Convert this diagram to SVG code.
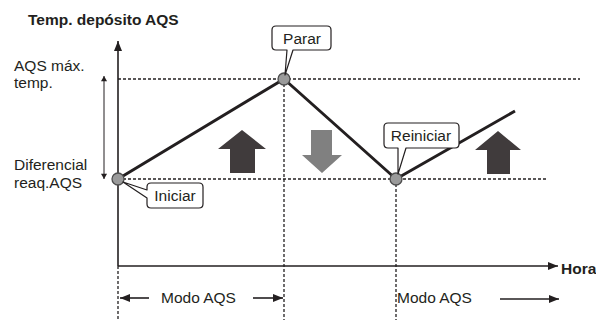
<svg xmlns="http://www.w3.org/2000/svg" width="596" height="320" viewBox="0 0 596 320">
<style>
text{font-family:"Liberation Sans",Arial,sans-serif;font-size:15.5px;fill:#231f20}
.b{font-weight:bold}
.dot{stroke:#231f20;stroke-width:1.3;stroke-dasharray:3 2;fill:none}
.ax{stroke:#231f20;stroke-width:1.6;fill:none}
.thin{stroke:#231f20;stroke-width:1;fill:none}
.main{stroke:#231f20;stroke-width:3;fill:none;stroke-linejoin:round}
.pt{fill:#9a9a9a;stroke:#4d4d4d;stroke-width:1.3}
.call{fill:#fff;stroke:#231f20;stroke-width:1.2;stroke-linejoin:round}
.up{fill:#403b3c}
.down{fill:#808080}
</style>
<defs>
<marker id="ah" viewBox="0 0 10 8" refX="10" refY="4" markerWidth="10" markerHeight="8" markerUnits="userSpaceOnUse" orient="auto"><path d="M0,0L10,4L0,8z" fill="#231f20"/></marker>
<marker id="ahs" viewBox="0 0 6 8" refX="6" refY="4" markerWidth="6" markerHeight="7" markerUnits="userSpaceOnUse" orient="auto"><path d="M0,0.5L6,4L0,7.5z" fill="#231f20"/></marker>
</defs>
<g id="axes">
<line class="ax" x1="118" y1="266" x2="118" y2="41" marker-end="url(#ah)"/>
<line class="ax" x1="118" y1="266" x2="558" y2="266" marker-end="url(#ah)"/>
<line class="thin" x1="104" y1="130" x2="104" y2="76" marker-end="url(#ahs)"/>
<line class="thin" x1="104" y1="130" x2="104" y2="179" marker-end="url(#ahs)"/>
</g>
<g id="connectors">
<line class="dot" x1="118" y1="79" x2="580" y2="79"/>
<line class="dot" x1="118" y1="179" x2="548" y2="179"/>
<line class="dot" x1="284" y1="79" x2="284" y2="320"/>
<line class="dot" x1="396" y1="179" x2="396" y2="320"/>
<line class="dot" x1="118" y1="266" x2="118" y2="320"/>
<polyline class="main" points="118,179 284,79 396,179 515,111"/>
<line class="ax" x1="149" y1="298" x2="120" y2="298" marker-end="url(#ah)"/>
<line class="ax" x1="253" y1="298" x2="283" y2="298" marker-end="url(#ah)"/>
<line class="ax" x1="500" y1="299" x2="559" y2="299" marker-end="url(#ah)"/>
</g>
<g id="arrows">
<polygon class="up" points="242,130 266,149 255,149 255,173 230,173 230,149 218,149"/>
<polygon class="down" points="311,130 332,130 332,155 342,155 322,173 302,155 311,155"/>
<polygon class="up" points="498,131 521,150 510,150 510,174 487,174 487,150 475,150"/>
</g>
<g id="points">
<circle class="pt" cx="118" cy="179" r="6"/>
<circle class="pt" cx="284" cy="79" r="6"/>
<circle class="pt" cx="396" cy="179" r="6"/>
</g>
<g id="parar">
<path class="call" d="M276,26H327Q331,26 331,30V46Q331,50 327,50H293L285,75L287,50H276Q272,50 272,46V30Q272,26 276,26Z"/>
<text x="302" y="44" text-anchor="middle">Parar</text>
</g>
<g id="iniciar">
<path class="call" d="M151,183H199Q203,183 203,187V204Q203,208 199,208H151Q147,208 147,204V198L123,182L147,190V187Q147,183 151,183Z"/>
<text x="175" y="201" text-anchor="middle">Iniciar</text>
</g>
<g id="reiniciar">
<path class="call" d="M388,123H455Q459,123 459,127V144Q459,148 455,148H406L398,174L398,148H388Q384,148 384,144V127Q384,123 388,123Z"/>
<text x="421" y="141" text-anchor="middle">Reiniciar</text>
</g>
<g id="labels">
<text class="b" x="28" y="25">Temp. depósito AQS</text>
<text x="14" y="71">AQS máx.</text>
<text x="14" y="88">temp.</text>
<text x="14" y="170">Diferencial</text>
<text x="14" y="188">reaq.AQS</text>
<text class="b" x="561" y="274">Hora</text>
<text x="161" y="303">Modo AQS</text>
<text x="397" y="303">Modo AQS</text>
</g>
</svg>
